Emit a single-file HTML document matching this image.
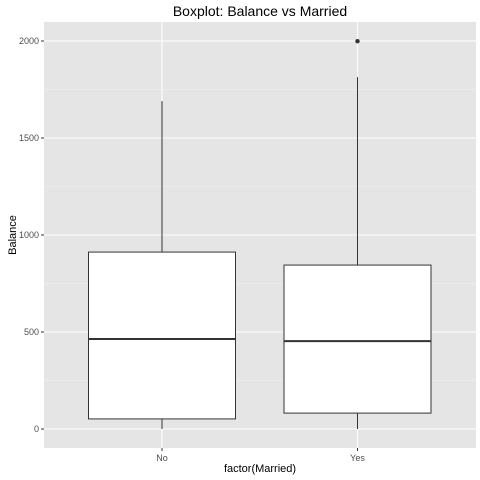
<!DOCTYPE html>
<html><head><meta charset="utf-8"><style>body{margin:0;background:#fff}svg{display:block}</style></head>
<body>
<svg id="chart" width="480" height="480" xmlns="http://www.w3.org/2000/svg" font-family="Liberation Sans, sans-serif">
<text x="260" y="16" text-anchor="middle" font-size="14" fill="#000">Boxplot: Balance vs Married</text>
<g id="plot"></g>
<text x="260" y="472" text-anchor="middle" font-size="11" fill="#000">factor(Married)</text>
<text x="16" y="235" text-anchor="middle" font-size="11" fill="#000" transform="rotate(-90 16 235)">Balance</text>
</svg>
<script>
const categories = ["No", "Yes"];
const mins = [0, 0];
const q1s = [52, 82];
const medians = [464, 453];
const q3s = [912, 845];
const maxs = [1690, 1814];
const outliers = [[], [1999]];
const yTicks = [0, 500, 1000, 1500, 2000];

const NS = "http://www.w3.org/2000/svg";
const g = document.getElementById("plot");
const L = 44, R = 476, T = 22, B = 448;
const y = v => 429 - v * (97 / 500);
const x = i => 162 + i * 195.5;
const bw = 147;
function mk(tag, attrs, parent) {
  const e = document.createElementNS(NS, tag);
  for (const k in attrs) e.setAttribute(k, attrs[k]);
  (parent || g).appendChild(e);
  return e;
}
let bg = mk("rect", {x: L, y: T, width: R - L, height: B - T, fill: "#e5e5e5"});


for (let i = 0; i < yTicks.length - 1; i++) {
  const m = (yTicks[i] + yTicks[i + 1]) / 2;
  mk("line", {x1: L, x2: R, y1: y(m), y2: y(m), stroke: "#f2f2f2", "stroke-width": 0.6});
}
yTicks.forEach(t => {
  const ln = mk("line", {x1: L, x2: R, y1: y(t), y2: y(t), stroke: "#fff", "stroke-width": 1.1});
  
  
  mk("line", {x1: L - 3, x2: L, y1: y(t), y2: y(t), stroke: "#333", "stroke-width": 1});
  const tx = mk("text", {x: L - 5, y: y(t) + 3, "text-anchor": "end", "font-size": 9, fill: "#4d4d4d"});
  tx.textContent = t;
  
  
});
categories.forEach((c, i) => {
  const cx = x(i);
  mk("line", {x1: cx, x2: cx, y1: T, y2: B, stroke: "#fff", "stroke-width": 1.1});
  mk("line", {x1: cx, x2: cx, y1: B, y2: B + 3, stroke: "#333"});
  const tx = mk("text", {x: cx, y: B + 13, "text-anchor": "middle", "font-size": 9, fill: "#4d4d4d"});
  tx.textContent = c;
  
  
});
categories.forEach((c, i) => {
  const cx = x(i);
  const grp = mk("g", {});
  
  
  mk("line", {x1: cx, x2: cx, y1: y(q3s[i]), y2: y(maxs[i]), stroke: "#333"}, grp);
  mk("line", {x1: cx, x2: cx, y1: y(q1s[i]), y2: y(mins[i]), stroke: "#333"}, grp);
  mk("rect", {x: cx - bw / 2, y: y(q3s[i]), width: bw, height: y(q1s[i]) - y(q3s[i]), fill: "#fff", stroke: "#333"}, grp);
  mk("line", {x1: cx - bw / 2, x2: cx + bw / 2, y1: y(medians[i]), y2: y(medians[i]), stroke: "#333", "stroke-width": 2}, grp);
  outliers[i].forEach(o => {
    const p = mk("circle", {cx: cx, cy: y(o), r: 2.2, fill: "#333"}, grp);
    
    
  });
});
</script>
</body></html>
